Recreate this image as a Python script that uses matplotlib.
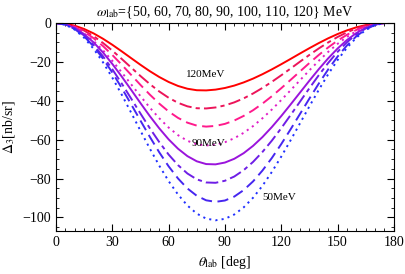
import numpy as np
import matplotlib
matplotlib.use('Agg')
from matplotlib import pyplot as plt
from matplotlib.ticker import MultipleLocator

plt.rcParams['font.family'] = ['Liberation Serif', 'DejaVu Serif']
plt.rcParams['mathtext.fontset'] = 'stix'
plt.rcParams['lines.scale_dashes'] = False

# scattering angle grid (deg)
theta = np.arange(0, 181, 5)

# Delta_3 [nb/sr], one list per photon energy
d120 = [0, -0.35, -1.39, -3.07, -5.33, -8.08, -11.20, -14.57, -18.05, -21.50, -24.79, -27.77, -30.33,
        -32.38, -33.81, -34.58, -34.67, -34.27, -33.43, -32.19, -30.56, -28.60, -26.34, -23.86, -21.21,
        -18.47, -15.68, -12.95, -10.33, -7.88, -5.69, -3.79, -2.23, -1.07, -0.32, -0.01, 0]
d110 = [0, -0.44, -1.76, -3.90, -6.76, -10.25, -14.20, -18.47, -22.88, -27.27, -31.43, -35.21, -38.46,
        -41.05, -42.87, -43.84, -43.96, -43.45, -42.39, -40.82, -38.76, -36.26, -33.40, -30.26, -26.90,
        -23.42, -19.89, -16.42, -13.09, -10.00, -7.21, -4.80, -2.83, -1.36, -0.40, -0.01, 0]
d100 = [0, -0.51, -2.03, -4.49, -7.80, -11.84, -16.45, -21.45, -26.65, -31.85, -36.85, -41.46, -45.50,
        -48.81, -51.27, -52.79, -53.30, -52.94, -51.89, -50.16, -47.79, -44.87, -41.46, -37.66, -33.55,
        -29.26, -24.92, -20.59, -16.45, -12.58, -9.08, -6.05, -3.57, -1.71, -0.51, -0.02, 0]
d90 = [0, -0.60, -2.40, -5.31, -9.22, -14.00, -19.45, -25.36, -31.50, -37.64, -43.55, -49.00, -53.78,
       -57.69, -60.60, -62.40, -63.00, -62.58, -61.33, -59.28, -56.49, -53.03, -49.00, -44.52, -39.65,
       -34.59, -29.45, -24.34, -19.45, -14.87, -10.74, -7.15, -4.22, -2.02, -0.60, -0.02, 0]
d80 = [0, -0.65, -2.58, -5.71, -9.94, -15.12, -21.05, -27.53, -34.33, -41.21, -47.92, -54.19, -59.86,
       -64.67, -68.48, -71.15, -72.57, -72.72, -71.79, -69.85, -66.96, -63.20, -58.68, -53.53, -47.88,
       -41.90, -35.79, -29.68, -23.76, -18.20, -13.15, -8.78, -5.18, -2.48, -0.74, -0.02, 0]
d70 = [0, -0.73, -2.91, -6.46, -11.24, -17.09, -23.79, -31.13, -38.81, -46.59, -54.17, -61.26, -67.68,
       -73.11, -77.42, -80.43, -82.04, -82.21, -81.16, -78.97, -75.70, -71.45, -66.34, -60.52, -54.13,
       -47.36, -40.46, -33.55, -26.86, -20.58, -14.87, -9.93, -5.86, -2.81, -0.84, -0.02, 0]
d60 = [0, -0.78, -3.11, -6.89, -12.01, -18.28, -25.49, -33.41, -41.76, -50.24, -58.59, -66.52, -73.73,
       -79.98, -85.11, -88.89, -91.22, -92.00, -91.32, -89.29, -85.96, -81.48, -75.90, -69.46, -62.31,
       -54.68, -46.79, -38.89, -31.18, -23.92, -17.31, -11.56, -6.84, -3.28, -0.98, -0.03, 0]
d50 = [0, -0.86, -3.43, -7.60, -13.25, -20.17, -28.13, -36.85, -46.07, -55.43, -64.64, -73.38, -81.34,
       -88.24, -93.90, -98.07, -100.64, -101.50, -100.75, -98.51, -94.84, -89.89, -83.74, -76.63, -68.75,
       -60.32, -51.62, -42.90, -34.40, -26.39, -19.10, -12.76, -7.54, -3.61, -1.09, -0.03, 0]

energies = [120, 110, 100, 90, 80, 70, 60, 50]
curves = [d120, d110, d100, d90, d80, d70, d60, d50]
colors = ['#ff0000', '#ec1459', '#ff1a8c', '#e01ec8', '#9a14dc', '#6e1ee6', '#4626f0', '#2030ff']
styles = ['-', (0, (9, 3, 3, 3)), (0, (8, 4)), (0, (1.5, 3)),
          '-', (0, (9, 3, 3, 3)), (0, (8, 4)), (0, (1.5, 3))]

fig = plt.figure(figsize=(4.06, 2.74), dpi=100)
ax = fig.add_axes([0.138, 0.157, 0.832, 0.759])

for d, c, ls in zip(curves, colors, styles):
    ax.plot(theta, d, color=c, ls=ls, lw=1.4)

# energy labels next to three of the curves
ax.text(79.5, -26.5, '120MeV', fontsize=8, ha='center', va='center')
ax.text(81.5, -61.8, '90MeV', fontsize=8, ha='center', va='center')
ax.text(119, -90, '50MeV', fontsize=8, ha='center', va='center')

ax.set_xlim(0, 180)
ax.set_ylim(-107, 0)
ax.xaxis.set_major_locator(MultipleLocator(30))
ax.xaxis.set_minor_locator(MultipleLocator(5))
ax.yaxis.set_major_locator(MultipleLocator(20))
ax.yaxis.set_minor_locator(MultipleLocator(5))
ax.tick_params(which='both', direction='in', top=True, right=True, labelsize=10)
ax.tick_params(which='major', length=5, width=0.8)
ax.tick_params(which='minor', length=2.5, width=0.6)

ax.set_title(r'$\omega_{\rm lab}$={50, 60, 70, 80, 90, 100, 110, 120} MeV', fontsize=10, pad=5)
ax.set_xlabel(r'$\theta_{\rm lab}$ [deg]', fontsize=10)
ax.set_ylabel(r'$\Delta_3$[nb/sr]', fontsize=10)

fig.savefig('out.png', dpi=100)
